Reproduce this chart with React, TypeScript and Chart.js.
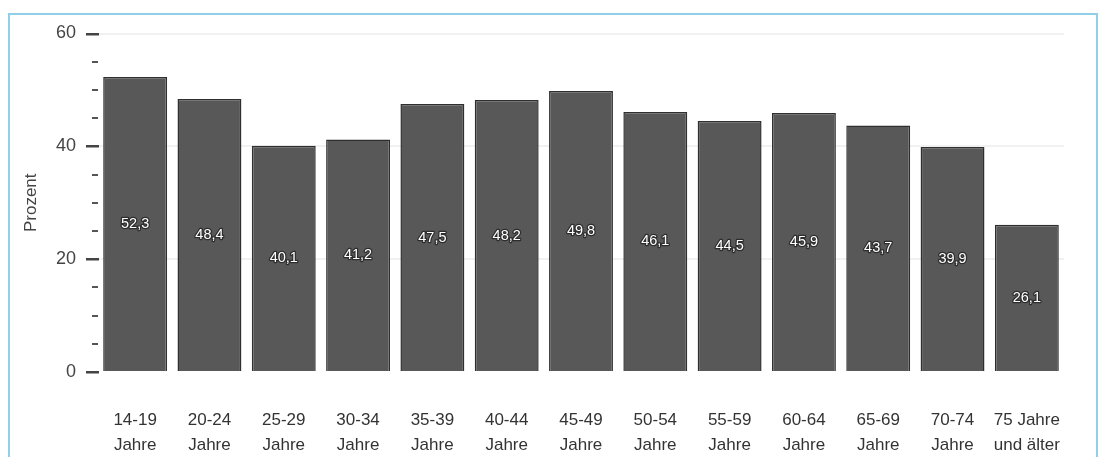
import React, { useEffect, useRef } from "react";
import { Chart, registerables } from "chart.js";

Chart.register(...registerables);

const categories: string[][] = [
  ["14-19", "Jahre"],
  ["20-24", "Jahre"],
  ["25-29", "Jahre"],
  ["30-34", "Jahre"],
  ["35-39", "Jahre"],
  ["40-44", "Jahre"],
  ["45-49", "Jahre"],
  ["50-54", "Jahre"],
  ["55-59", "Jahre"],
  ["60-64", "Jahre"],
  ["65-69", "Jahre"],
  ["70-74", "Jahre"],
  ["75 Jahre", "und älter"],
];
const values: number[] = [52.3, 48.4, 40.1, 41.2, 47.5, 48.2, 49.8, 46.1, 44.5, 45.9, 43.7, 39.9, 26.1];
const yMajorTicks: number[] = [0, 20, 40, 60];
const yTitle = "Prozent";

const FONT = "'Liberation Sans', Arial, Helvetica, sans-serif";

const tickMarks = {
  id: "tickMarks",
  afterDraw(chart: any) {
    const y = chart.scales.y;
    const ctx = chart.ctx;
    const right = chart.chartArea.left;
    ctx.save();
    for (let v = 0; v <= 60; v += 5) {
      const py = Math.round(y.getPixelForValue(v));
      const major = yMajorTicks.includes(v);
      ctx.fillStyle = major ? "#444" : "#555";
      if (major) ctx.fillRect(right - 12, py - 1, 13, 2.5);
      else ctx.fillRect(right - 6, py - 1, 6, 2);
    }
    ctx.restore();
  },
};

const valueLabels = {
  id: "valueLabels",
  afterDatasetsDraw(chart: any) {
    const ctx = chart.ctx;
    const meta = chart.getDatasetMeta(0);
    ctx.save();
    ctx.font = `14.5px ${FONT}`;
    ctx.textAlign = "center";
    ctx.textBaseline = "middle";
    ctx.lineJoin = "round";
    meta.data.forEach((el: any, i: number) => {
      const txt = values[i].toFixed(1).replace(".", ",");
      const cy = (el.y + el.base) / 2;
      ctx.lineWidth = 2.5;
      ctx.strokeStyle = "rgba(35,35,35,0.8)";
      ctx.strokeText(txt, el.x, cy);
      ctx.fillStyle = "#ffffff";
      ctx.fillText(txt, el.x, cy);
    });
    ctx.restore();
  },
};

export default function App() {
  const ref = useRef<HTMLCanvasElement | null>(null);
  useEffect(() => {
    if (!ref.current) return;
    const chart = new Chart(ref.current, {
      type: "bar",
      data: {
        labels: categories,
        datasets: [
          {
            data: values,
            backgroundColor: "#585858",
            borderColor: "#2f2f2f",
            borderWidth: 1.5,
            barPercentage: 0.86,
            categoryPercentage: 1,
          },
        ],
      },
      options: {
        responsive: false,
        animation: false,
        layout: { padding: { top: 33.5, right: 40, left: 0, bottom: 0 } },
        plugins: {
          legend: { display: false },
          tooltip: { enabled: false },
        },
        scales: {
          x: {
            grid: { display: false, drawTicks: false },
            border: { display: false },
            ticks: {
              color: "#333",
              padding: 36,
              maxRotation: 0,
              autoSkip: false,
              font: { family: FONT, size: 17, lineHeight: 1.45 },
            },
            afterFit(scale: any) {
              scale.height = 85;
            },
          },
          y: {
            min: 0,
            max: 60,
            border: { display: false },
            grid: {
              drawTicks: false,
              color: (c: any) =>
                c.tick && c.tick.value > 0 && c.tick.value % 20 === 0 ? "#f1f1f1" : "rgba(0,0,0,0)",
              lineWidth: 2,
            },
            ticks: {
              stepSize: 5,
              padding: 22,
              color: "#444",
              font: { family: FONT, size: 18 },
              callback: (v: any) => (yMajorTicks.includes(Number(v)) ? String(v) : ""),
            },
            title: {
              display: true,
              text: yTitle,
              color: "#444",
              font: { family: FONT, size: 17 },
              padding: { top: 21, bottom: 0 },
            },
            afterFit(scale: any) {
              scale.width = 98;
            },
          },
        },
      },
      plugins: [tickMarks, valueLabels],
    });
    return () => chart.destroy();
  }, []);

  return (
    <div>
      <div
        style={{
          position: "fixed",
          left: 8,
          top: 13,
          width: 1090,
          height: 470,
          border: "2px solid #8fd0e8",
          boxSizing: "border-box",
        }}
      />
      <canvas
        ref={ref}
        width={1104}
        height={457}
        style={{ position: "fixed", left: 0, top: 0, width: 1104, height: 457 }}
      />
    </div>
  );
}
